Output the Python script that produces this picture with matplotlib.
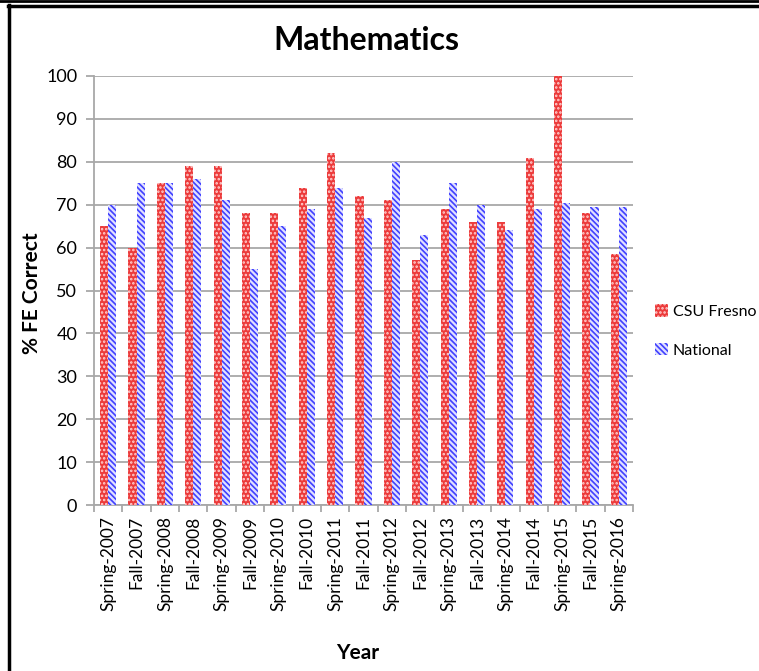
import matplotlib.pyplot as plt
import numpy as np
from matplotlib.lines import Line2D

plt.rcParams["font.family"] = ["Lato", "DejaVu Sans"]
plt.rcParams["hatch.linewidth"] = 1.2

# Semester labels and percent of FE questions answered correctly
terms = [
    "Spring-2007", "Fall-2007", "Spring-2008", "Fall-2008", "Spring-2009",
    "Fall-2009", "Spring-2010", "Fall-2010", "Spring-2011", "Fall-2011",
    "Spring-2012", "Fall-2012", "Spring-2013", "Fall-2013", "Spring-2014",
    "Fall-2014", "Spring-2015", "Fall-2015", "Spring-2016",
]
csu_fresno = [65, 60, 75, 79, 79, 68, 68, 74, 82, 72,
              71, 57, 69, 66, 66, 81, 100, 68, 58.5]
national = [70, 75, 75, 76, 71, 55, 65, 69, 74, 67,
            80, 63, 75, 70, 64, 69, 70.5, 69.5, 69.5]

fig = plt.figure(figsize=(7.59, 6.71), dpi=100)
ax = fig.add_axes([94 / 759, 1 - 505 / 671, 539 / 759, 429 / 671])

x = np.arange(len(terms))
w = 0.285

ax.bar(x - w / 2, csu_fresno, w, facecolor="#ec3b3b", edgecolor="#ffd0d0",
       hatch="....", linewidth=0, label="CSU Fresno", zorder=3)
ax.bar(x + w / 2, national, w, facecolor="#e0e0ff", edgecolor="#4040ff",
       hatch="\\\\\\\\\\\\", linewidth=0, label="National", zorder=3)

ax.set_xlim(-0.5, len(terms) - 0.5)
ax.set_ylim(0, 100)
ax.set_yticks(range(0, 101, 10))
ax.yaxis.grid(True, color="#a8a8a8", linewidth=1.3, zorder=0)
ax.set_xticks(x)
ax.set_xticklabels(terms, rotation=90, fontsize=12.5)
ax.set_xticks(np.arange(-0.5, len(terms)), minor=True)
ax.tick_params(axis="x", which="major", length=0, pad=8)
ax.tick_params(axis="x", which="minor", length=5, color="#a8a8a8", width=1.3)
ax.tick_params(axis="y", length=6, color="#a8a8a8", width=1.3, labelsize=13, pad=6)

for side in ["top", "right"]:
    ax.spines[side].set_visible(False)
for side in ["left", "bottom"]:
    ax.spines[side].set_color("#a8a8a8")
    ax.spines[side].set_linewidth(1.3)

fig.text(366 / 759, 1 - 40 / 671, "Mathematics", ha="center", va="center",
         fontsize=23, fontweight="bold")
fig.text(32 / 759, 1 - 293 / 671, "% FE Correct", ha="center", va="center",
         rotation=90, fontsize=15, fontweight="bold")
fig.text(358 / 759, 1 - 653 / 671, "Year", ha="center", va="center",
         fontsize=15, fontweight="bold")

ax.legend(loc="center left", bbox_to_anchor=(641 / 759, 1 - 331 / 671),
          bbox_transform=fig.transFigure, frameon=False, fontsize=11.5,
          handlelength=0.8, handleheight=0.8, handletextpad=0.3,
          labelspacing=1.5)

# outer frame lines
fig.add_artist(Line2D([0, 1], [1 - 1 / 671, 1 - 1 / 671], color="black",
                      linewidth=2, transform=fig.transFigure))
fig.add_artist(Line2D([8 / 759, 1], [1 - 6 / 671, 1 - 6 / 671], color="black",
                      linewidth=2.5, transform=fig.transFigure))
fig.add_artist(Line2D([8.5 / 759, 8.5 / 759], [0, 1 - 5 / 671], color="black",
                      linewidth=2.5, transform=fig.transFigure))

fig.savefig("out.png", dpi=100)
